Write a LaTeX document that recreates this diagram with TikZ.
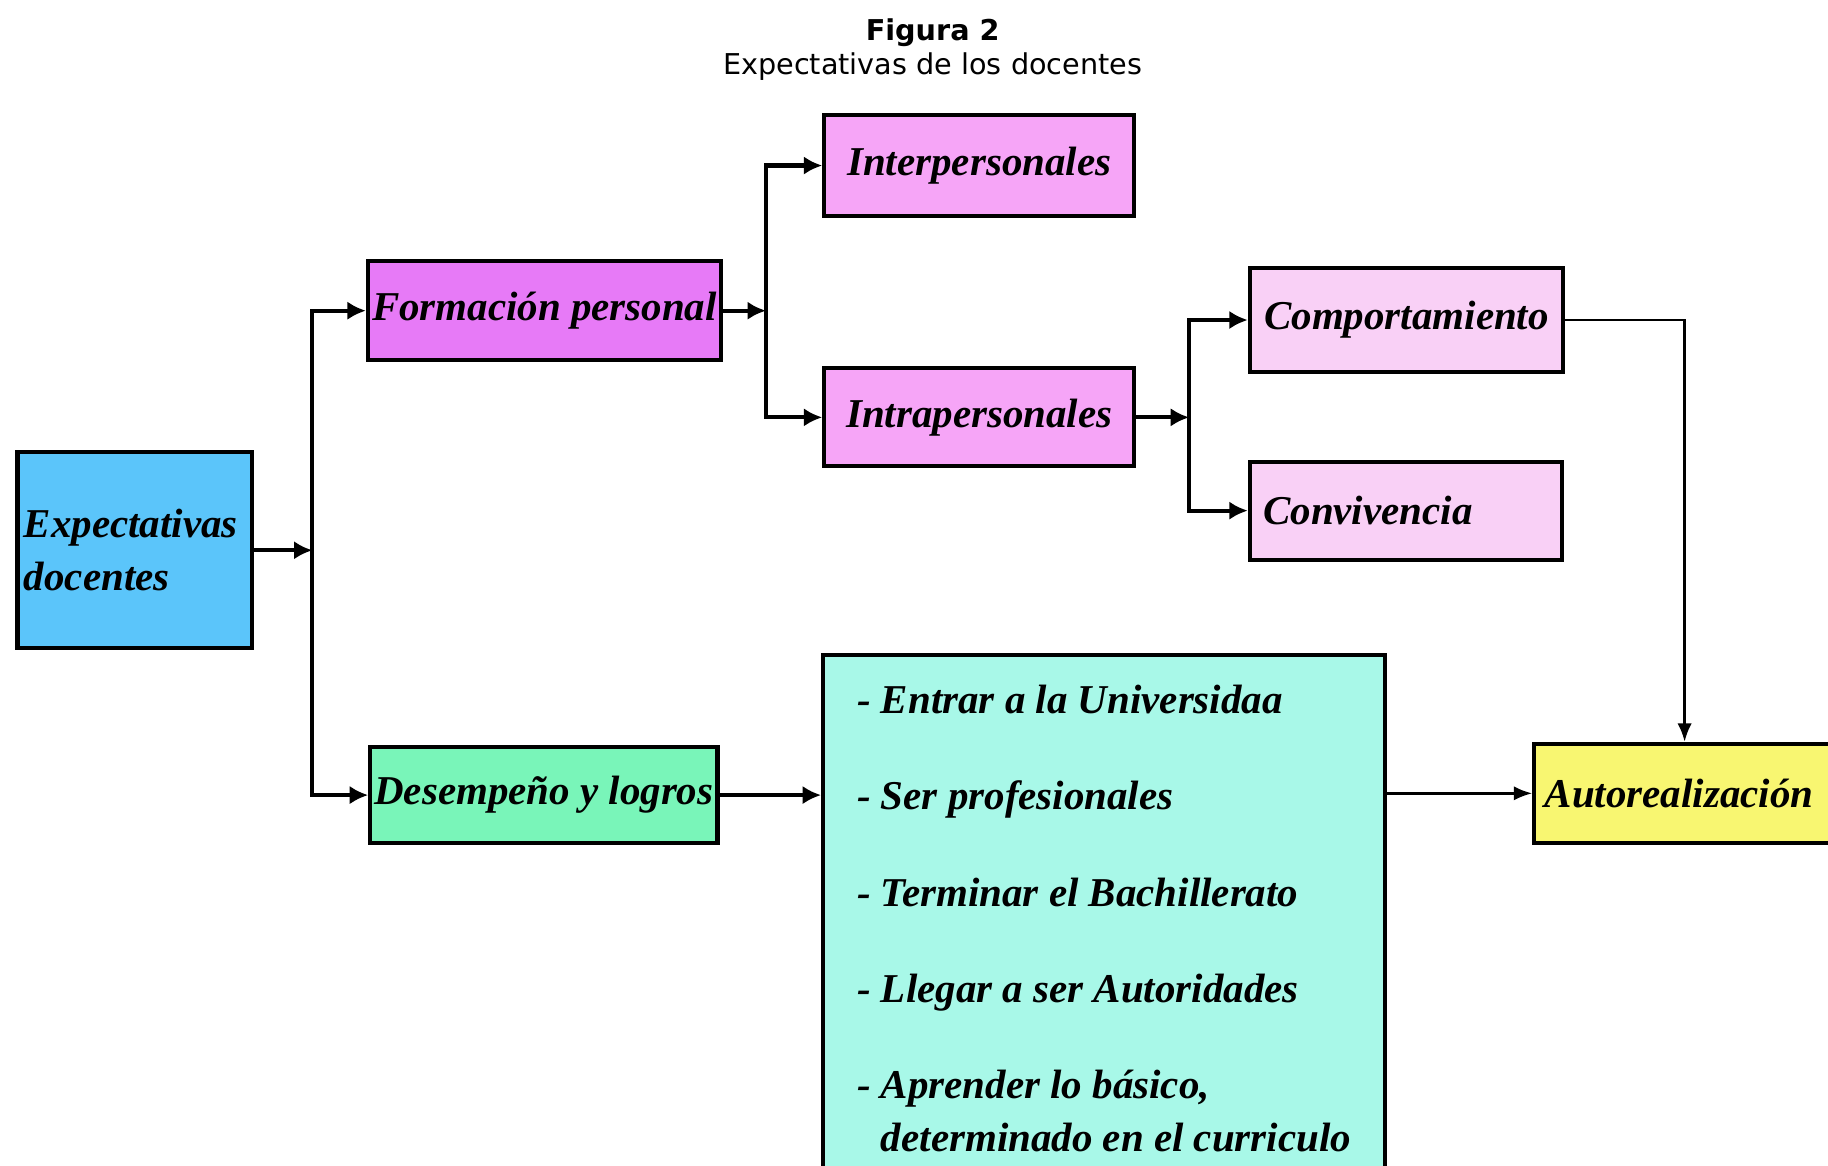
\documentclass[tikz,border=0pt]{standalone}
\usepackage{fontspec}
\usetikzlibrary{arrows.meta}
\newfontfamily\titlefont{DejaVu Sans}
\newfontfamily\boxfont{Liberation Serif}
\definecolor{expblue}{RGB}{91,197,250}
\definecolor{formpink}{RGB}{231,122,247}
\definecolor{midpink}{RGB}{246,165,247}
\definecolor{lightpink}{RGB}{249,208,246}
\definecolor{desgreen}{RGB}{121,245,185}
\definecolor{listcyan}{RGB}{168,248,232}
\definecolor{autoyellow}{RGB}{248,246,113}

\begin{document}
\begin{tikzpicture}[x=0.02cm,y=-0.02cm,
  box/.style={draw,line width=2pt,fill=#1,inner sep=2pt,
    font=\boxfont\bfseries\itshape\fontsize{20}{26}\selectfont},
  link/.style={line width=2pt,-{Latex[length=9pt,width=9pt]}},
  slimlink/.style={line width=1.2pt,-{Latex[length=9pt,width=7pt]}}]
  \def\bw{5.32cm};
  \def\bh{1.7cm};
  \useasboundingbox (0,0) rectangle (1568,1000);
  % title
  \node[font=\titlefont\bfseries\fontsize{14}{16}\selectfont] (fig) at (800,28) {Figura 2};
  \node[font=\titlefont\fontsize{14}{16}\selectfont] (sub) at (800,57) {Expectativas de los docentes};
  % boxes
  \node[box=expblue,minimum width=4.02cm,minimum height=3.36cm,text width=3.8cm,align=left] (exp) at (115.5,472) {Expectativas\\docentes};
  \node[box=formpink,minimum width=5.96cm,minimum height=\bh] (form) at (467,266.5) {Formación personal};
  \node[box=desgreen,minimum width=5.94cm,minimum height=1.64cm] (desem) at (466.5,682) {Desempeño y logros};
  \node[box=midpink,minimum width=\bw,minimum height=1.72cm] (inter) at (840,142) {Interpersonales};
  \node[box=midpink,minimum width=\bw,minimum height=1.68cm] (intra) at (840,358) {Intrapersonales};
  \node[box=lightpink,minimum width=5.38cm,minimum height=1.78cm] (comp) at (1206.5,274.5) {Comportamiento};
  \node[box=lightpink,minimum width=5.36cm,minimum height=1.68cm,text width=4.9cm,align=left] (conv) at (1206,438) {Convivencia};
  \node[box=listcyan,minimum width=9.64cm,minimum height=9.04cm,align=left] (list) at (947,788)
    {- Entrar a la Universidaa\\[21pt]
     - Ser profesionales\\[21pt]
     - Terminar el Bachillerato\\[21pt]
     - Llegar a ser Autoridades\\[21pt]
     - Aprender lo básico,\\
     \phantom{- }determinado en el curriculo};
  \node[box=autoyellow,minimum width=5.16cm,minimum height=\bh,text width=4.8cm,align=left] (auto) at (1445,680.5) {Autorealización};
  % branch points
  \coordinate (b1) at (268,472);
  \coordinate (b2) at (657,266.5);
  \coordinate (b3) at (1020,358);
  % connectors
  \draw[link] (exp) -- (b1);
  \draw[link] (b1) |- (form);
  \draw[link] (b1) |- (desem);
  \draw[link] (form) -- (b2);
  \draw[link] (b2) |- (inter);
  \draw[link] (b2) |- (intra);
  \draw[link] (intra) -- (b3);
  \draw[link] (b3) |- (comp);
  \draw[link] (b3) |- (conv);
  \draw[link] (desem) -- (desem -| list.west);
  \draw[slimlink] (comp.east) -| (auto.north);
  \draw[slimlink] (auto.west -| list.east) -- (auto.west);
\end{tikzpicture}
\end{document}
